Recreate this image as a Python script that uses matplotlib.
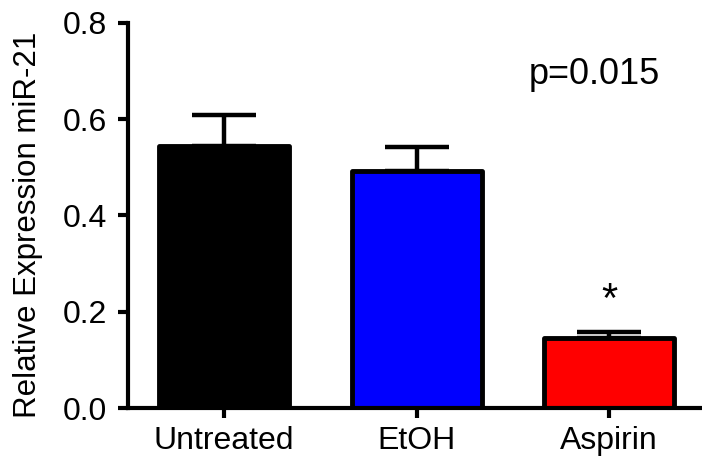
import matplotlib
matplotlib.use('Agg')
import matplotlib.pyplot as plt
import numpy as np

plt.rcParams['font.family'] = ['Liberation Sans', 'DejaVu Sans']

categories = ['Untreated', 'EtOH', 'Aspirin']
means = [0.545, 0.493, 0.146]
sem = [0.064, 0.050, 0.012]
bar_colors = ['#000000', '#0000ff', '#ff0000']
p_label = 'p=0.015'
star_label = '*'

fig = plt.figure(figsize=(7.02, 4.61), dpi=100)
# axes box in pixels: left spine at x=128, zero line at y=408, 0.8 at y=23
ax = fig.add_axes([128 / 702, 53 / 461, 577.5 / 702, 385 / 461])
x = np.arange(len(categories))

ax.bar(x, means, width=0.675, color=bar_colors, edgecolor='black',
       linewidth=3.5, joinstyle='round', zorder=2)
ax.errorbar(x, means, yerr=[np.zeros(len(sem)), sem], fmt='none',
            ecolor='black', elinewidth=3.2, capsize=23, capthick=3.2, zorder=1)

ax.text(1.922, 0.692, p_label, fontsize=26, ha='center', va='center')
ax.text(2, 0.222, star_label, fontsize=30, ha='center', va='center')

ax.set_xlim(-0.5, 2.5)
ax.set_ylim(0, 0.8)
ax.set_yticks([0, 0.2, 0.4, 0.6, 0.8])
ax.set_yticklabels(['0.0', '0.2', '0.4', '0.6', '0.8'])
ax.set_xticks(x)
ax.set_xticklabels(categories)
ax.tick_params(axis='both', labelsize=23, width=3, length=7)
ax.tick_params(axis='y', pad=8)
ax.tick_params(axis='x', pad=6)
ax.set_ylabel('Relative Expression miR-21', fontsize=22.5)
ax.yaxis.set_label_coords(-0.147, 0.475)

for side in ['top', 'right']:
    ax.spines[side].set_visible(False)
for side in ['left', 'bottom']:
    ax.spines[side].set_linewidth(3)

fig.savefig('out.png', dpi=100)
